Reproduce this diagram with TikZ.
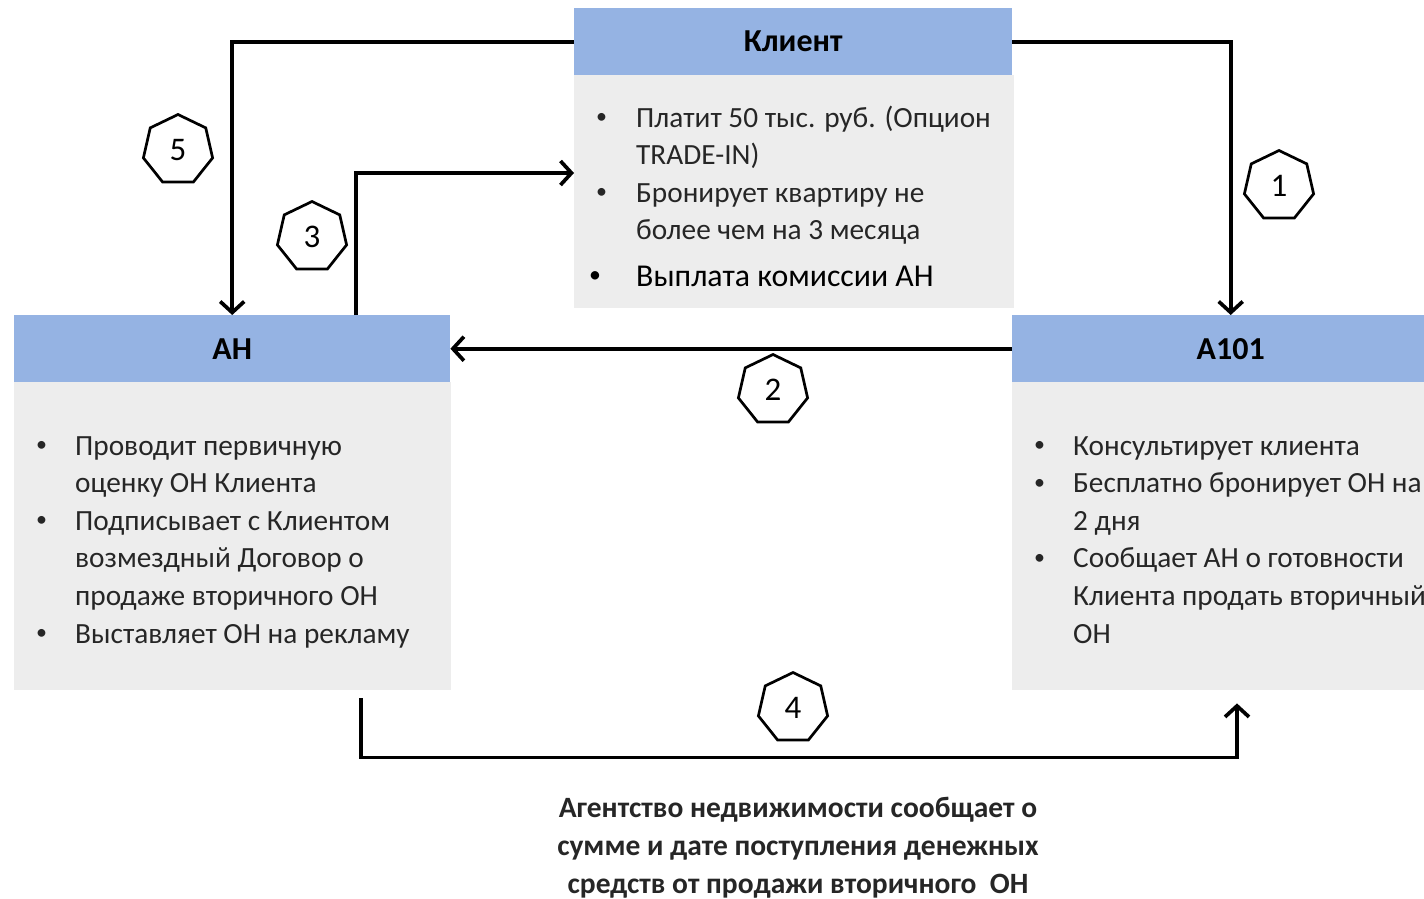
\documentclass[tikz,border=0pt]{standalone}
\usepackage{fontspec}
\setmainfont{Carlito}
\usetikzlibrary{shapes.geometric,arrows.meta}
\definecolor{hdrblue}{RGB}{149,179,227}
\definecolor{bodygray}{RGB}{237,237,237}
\newcommand\smbul{\raisebox{0.12em}{\scalebox{0.75}{\textbullet}}}
\begin{document}
\begin{tikzpicture}[x=1pt,y=-1pt,
  hdr/.style={fill=hdrblue, draw=none, minimum width=437pt, minimum height=67pt, inner sep=0pt, anchor=north west, font=\fontsize{32}{36}\selectfont\bfseries},
  bodybox/.style={fill=bodygray, draw=none, minimum width=437pt, inner sep=0pt, anchor=north west},
  listtxt/.style={inner sep=0pt, anchor=base west, font=\fontsize{29.3}{37.6}\selectfont, text=black!85},
  hept/.style={regular polygon, regular polygon sides=7, draw, line width=2.7pt, minimum size=71pt, inner sep=0pt, font=\fontsize{33}{36}\selectfont},
  conn/.style={line width=3.7pt, -{Straight Barb[length=11pt,width=24pt,line width=3.7pt]}}
]
\useasboundingbox (0,0) rectangle (1424,898);
\clip (0,0) rectangle (1424,898);

% boxes
\node[bodybox, minimum width=440pt, minimum height=233pt] (klb) at (574,75) {};
\node[hdr, minimum width=438pt] (klh) at (574,8) {Клиент};
\node[bodybox, minimum height=308pt] (anb) at (14,382) {};
\node[hdr, minimum width=436pt] (anh) at (14,315) {АН};
\node[bodybox, minimum height=308pt] (ab) at (1012,382) {};
\node[hdr] (ah) at (1012,315) {А101};

% lists
\node[listtxt] (klt) at (596,127) {\begin{tabular}[t]{@{}p{40pt}@{}l@{}}
\smbul & Платит 50 тыс. руб. (Опцион\\
 & TRADE-IN)\\
\smbul & Бронирует квартиру не\\
 & более чем на 3 месяца
\end{tabular}};
\node[listtxt, font=\fontsize{31.8}{37}\selectfont, text=black] (klt2) at (589,286) {\begin{tabular}[t]{@{}p{47pt}@{}l@{}}
\smbul & Выплата комиссии АН
\end{tabular}};
\node[listtxt] (ant) at (36,455) {\begin{tabular}[t]{@{}p{39pt}@{}l@{}}
\smbul & Проводит первичную\\
 & оценку ОН Клиента\\
\smbul & Подписывает с Клиентом\\
 & возмездный Договор о\\
 & продаже вторичного ОН\\
\smbul & Выставляет ОН на рекламу
\end{tabular}};
\node[listtxt] (at) at (1034,455) {\begin{tabular}[t]{@{}p{39pt}@{}l@{}}
\smbul & Консультирует клиента\\
\smbul & Бесплатно бронирует ОН на\\
 & 2 дня\\
\smbul & Сообщает АН о готовности\\
 & Клиента продать вторичный\\
 & ОН
\end{tabular}};

% heptagons
\node[hept] (h5) at (178,150) {5};
\node[hept] (h3) at (312,237) {3};
\node[hept] (h1) at (1279,186) {1};
\node[hept] (h2) at (773,390) {2};
\node[hept] (h4) at (793,708) {4};

% connectors
\draw[conn] (klh.west) -| (anh.north);
\draw[conn] (klh.east) -| (ah.north);
\draw[conn] ([xshift=342pt]anh.north west) |- ([yshift=-98pt]klb.north west);
\draw[conn] (ah.west) -- (anh.east);
\coordinate (c4a) at ([xshift=347pt,yshift=-8pt]anb.south west);
\coordinate (c4b) at ([xshift=225pt,yshift=-13pt]ab.south west);
\draw[conn] (c4a) -- ++(0,59) -| (c4b);

% bottom note
\node[inner sep=0pt, anchor=base, align=center, font=\fontsize{29.5}{38}\selectfont\bfseries, text=black!85] (note) at (798,893) {Агентство недвижимости сообщает о\\сумме и дате поступления денежных\\средств от продажи вторичного~ ОН};
\end{tikzpicture}
\end{document}
